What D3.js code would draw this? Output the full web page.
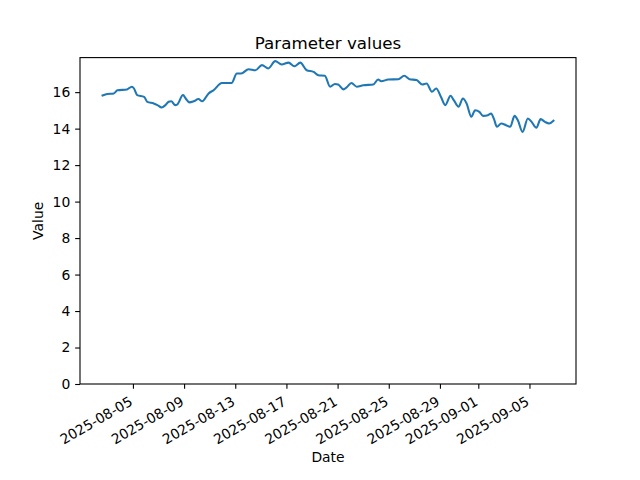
<!DOCTYPE html>
<html>
<head>
<meta charset="utf-8">
<script src="https://cdn.jsdelivr.net/npm/d3@7/dist/d3.min.js"></script>
<style>
  body { margin: 0; background: #fff; }
  svg { display: block; font-family: "DejaVu Sans", sans-serif; }
</style>
</head>
<body>
<svg id="chart" width="640" height="480"></svg>
<script>
const dates = [
  "2025-08-02T15:00","2025-08-03T00:00","2025-08-03T12:00","2025-08-03T19:00","2025-08-04T13:00",
  "2025-08-04T22:00","2025-08-05T02:00","2025-08-05T08:00","2025-08-05T21:00","2025-08-06T03:00",
  "2025-08-06T15:00","2025-08-06T22:00","2025-08-07T06:00","2025-08-07T13:00","2025-08-07T19:00",
  "2025-08-08T00:00","2025-08-08T07:00","2025-08-08T11:00","2025-08-08T22:00","2025-08-09T03:00",
  "2025-08-09T10:00","2025-08-09T18:00","2025-08-10T03:00","2025-08-10T10:00","2025-08-10T22:00",
  "2025-08-11T07:00","2025-08-11T23:00","2025-08-12T17:00","2025-08-13T03:00","2025-08-13T11:00",
  "2025-08-14T01:00","2025-08-14T14:00","2025-08-15T02:00","2025-08-15T14:00","2025-08-16T03:00",
  "2025-08-16T15:00","2025-08-17T04:00","2025-08-17T15:00","2025-08-18T02:00","2025-08-18T14:00",
  "2025-08-19T03:00","2025-08-19T12:00","2025-08-20T00:00","2025-08-20T10:00","2025-08-20T19:00",
  "2025-08-21T01:00","2025-08-21T11:00","2025-08-21T17:00","2025-08-22T02:00","2025-08-22T12:00",
  "2025-08-23T00:00","2025-08-23T19:00","2025-08-24T04:00","2025-08-24T10:00","2025-08-24T23:00",
  "2025-08-25T18:00","2025-08-26T05:00","2025-08-26T15:00","2025-08-27T04:00","2025-08-27T15:00",
  "2025-08-27T23:00","2025-08-28T09:00","2025-08-28T17:00","2025-08-29T02:00","2025-08-29T10:00",
  "2025-08-29T20:00","2025-08-30T02:00","2025-08-30T11:00","2025-08-30T19:00","2025-08-31T02:00",
  "2025-08-31T11:00","2025-08-31T18:00","2025-09-01T02:00","2025-09-01T09:00","2025-09-01T18:00",
  "2025-09-02T00:00","2025-09-02T05:00","2025-09-02T11:00","2025-09-02T19:00","2025-09-03T04:00",
  "2025-09-03T12:00","2025-09-03T20:00","2025-09-04T02:00","2025-09-04T11:00","2025-09-04T21:00",
  "2025-09-05T04:00","2025-09-05T13:00","2025-09-05T21:00","2025-09-06T05:00","2025-09-06T13:00",
  "2025-09-06T21:00"
];
const values = [
  15.82,15.90,15.93,16.10,16.15,
  16.30,16.20,15.84,15.74,15.47,
  15.38,15.29,15.16,15.29,15.47,
  15.50,15.29,15.32,15.84,15.65,
  15.44,15.50,15.62,15.50,15.93,
  16.10,16.50,16.50,17.02,17.02,
  17.26,17.20,17.48,17.30,17.70,
  17.52,17.62,17.42,17.62,17.20,
  17.11,16.93,16.90,16.30,16.45,
  16.42,16.15,16.26,16.50,16.30,
  16.38,16.42,16.69,16.60,16.69,
  16.71,16.90,16.71,16.66,16.42,
  16.47,16.02,16.20,15.74,15.29,
  15.80,15.56,15.20,15.65,15.38,
  14.65,15.01,14.92,14.70,14.74,
  14.83,14.56,14.10,14.28,14.19,
  14.10,14.70,14.47,13.82,14.56,
  14.37,14.05,14.52,14.37,14.28,
  14.43
];
const xTickLabels = ["2025-08-05","2025-08-09","2025-08-13","2025-08-17","2025-08-21","2025-08-25","2025-08-29","2025-09-01","2025-09-05"];
const yTickValues = [0,2,4,6,8,10,12,14,16];

const parse = d3.timeParse("%Y-%m-%dT%H:%M");
const parseDay = d3.timeParse("%Y-%m-%d");
const data = dates.map((d, i) => ({ t: parse(d), v: values[i] }));

const W = 640, H = 480;
const L = 80, R = 576, T = 57.6, B = 384;
const svg = d3.select("#chart");

const tExt = d3.extent(data, d => d.t);
const span = tExt[1] - tExt[0];
const x = d3.scaleTime()
  .domain([new Date(+tExt[0] - span * 0.05), new Date(+tExt[1] + span * 0.05)])
  .range([L, R]);
const vMin = d3.min(values), vMax = d3.max(values);
const y = d3.scaleLinear()
  .domain([0, vMax + (vMax - vMin) * 0.05])
  .range([B, T]);

const tickLen = 4.86;
const fs = 13.9;

// x axis
const xAxis = d3.axisBottom(x)
  .tickValues(xTickLabels.map(parseDay))
  .tickFormat(d3.timeFormat("%Y-%m-%d"))
  .tickSize(tickLen).tickSizeOuter(0);
const gx = svg.append("g").attr("transform", `translate(0,${B})`).call(xAxis);
gx.select(".domain").remove();
gx.selectAll(".tick line").attr("stroke", "#000").attr("stroke-width", 1.1);
gx.selectAll(".tick text")
  .attr("fill", "#000")
  .style("font-size", fs + "px")
  .style("font-family", "DejaVu Sans")
  .attr("text-anchor", "end")
  .attr("y", 0).attr("dy", 0)
  .attr("dominant-baseline", "hanging")
  .attr("transform", `translate(-5,${tickLen + 6.5}) rotate(-30)`);

// y axis
const yAxis = d3.axisLeft(y)
  .tickValues(yTickValues)
  .tickFormat(d3.format("d"))
  .tickSize(tickLen).tickSizeOuter(0).tickPadding(4.86);
const gy = svg.append("g").attr("transform", `translate(${L},0)`).call(yAxis);
gy.select(".domain").remove();
gy.selectAll(".tick line").attr("stroke", "#000").attr("stroke-width", 1.1);
gy.selectAll(".tick text")
  .attr("fill", "#000")
  .style("font-size", fs + "px")
  .style("font-family", "DejaVu Sans");

// line
const line = d3.line()
  .x(d => x(d.t))
  .y(d => y(d.v))
  .curve(d3.curveMonotoneX);
svg.append("path")
  .datum(data)
  .attr("fill", "none")
  .attr("stroke", "#1f77b4")
  .attr("stroke-width", 2.08)
  .attr("stroke-linejoin", "round")
  .attr("stroke-linecap", "square")
  .attr("d", line);

// frame
svg.append("rect")
  .attr("x", L).attr("y", T)
  .attr("width", R - L).attr("height", B - T)
  .attr("fill", "none").attr("stroke", "#000").attr("stroke-width", 1.1);

// title & labels
svg.append("text")
  .attr("x", (L + R) / 2).attr("y", 49)
  .attr("text-anchor", "middle")
  .style("font-size", "16.7px")
  .text("Parameter values");
svg.append("text")
  .attr("x", (L + R) / 2).attr("y", 462)
  .attr("text-anchor", "middle")
  .style("font-size", fs + "px")
  .text("Date");
svg.append("text")
  .attr("transform", `translate(43,${(T + B) / 2}) rotate(-90)`)
  .attr("text-anchor", "middle")
  .style("font-size", fs + "px")
  .text("Value");
</script>
</body>
</html>
